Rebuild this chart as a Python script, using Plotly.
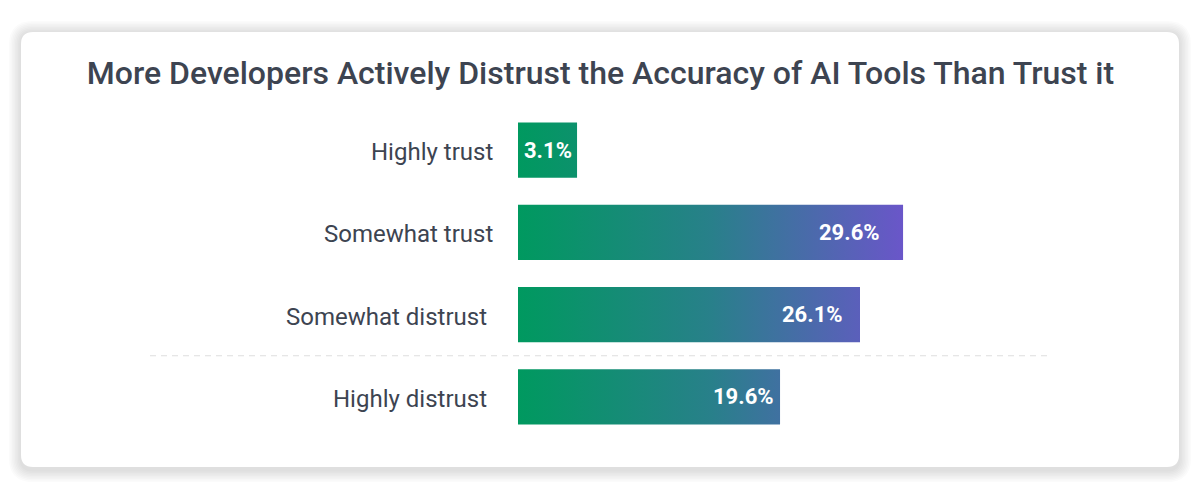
import plotly.graph_objects as go

categories = ["Highly trust", "Somewhat trust", "Somewhat distrust", "Highly distrust"]
values = [3.1, 29.6, 26.1, 19.6]
value_labels = ["3.1%", "29.6%", "26.1%", "19.6%"]
title = "More Developers Actively Distrust the Accuracy of AI Tools Than Trust it"

OFF = 8            # page body margin
W, H = 1201 - 2 * OFF, 501 - 2 * OFF
# plot area in figure pixels
L, R, T, B = 518 - OFF, 1047 - OFF, 109 - OFF, 438 - OFF
x0 = -1.7          # bars start a bit left of zero (minimum bar width)
xmax = 41.3
half = 0.335       # half bar thickness in category units
label_gap = [23, 23, 29, 29]   # distrust group labels sit a little further left

text_color = "#3d4451"
grad = [[0, "#00995f"], [0.5, "#28808a"], [1, "#6a56c9"]]


def px(x):
    return (x - OFF - L) / (R - L)


def py(y):
    return (B - (y - OFF)) / (B - T)


def rounded(xa, ya, xb, yb, r):
    # rounded rectangle path in paper units, input in page pixels
    rx = r / (R - L)
    ry = r / (B - T)
    a, b, c, d = px(xa), py(ya), px(xb), py(yb)
    return (f"M {a + rx},{b} L {c - rx},{b} Q {c},{b} {c},{b - ry} "
            f"L {c},{d + ry} Q {c},{d} {c - rx},{d} L {a + rx},{d} "
            f"Q {a},{d} {a},{d + ry} L {a},{b - ry} Q {a},{b} {a + rx},{b} Z")


fig = go.Figure()

for i, v in enumerate(values):
    fig.add_trace(go.Scatter(
        x=[x0, v, v, x0, x0],
        y=[i - half, i - half, i + half, i + half, i - half],
        mode="lines",
        line=dict(width=0),
        fill="toself",
        fillgradient=dict(type="horizontal", colorscale=grad,
                          start=x0, stop=max(values)),
        hoverinfo="skip",
        showlegend=False,
    ))

# category labels
for i, cat in enumerate(categories):
    fig.add_annotation(x=0, xref="paper", y=i, text=cat, showarrow=False,
                       xanchor="right", xshift=-label_gap[i], yshift=-2,
                       font=dict(size=24, color=text_color, family="Roboto"))

# value labels
for i, (v, lab) in enumerate(zip(values, value_labels)):
    frac = 0.5 if v < 5 else 0.862
    fig.add_annotation(x=x0 + frac * (v - x0), y=i, text=f"<b>{lab}</b>", showarrow=False,
                       xanchor="center",
                       font=dict(size=22, color="white", family="Roboto"))

shapes = []
# card shadow
for k in range(8):
    e = 1.5 * (k + 1)
    shapes.append(dict(type="path", xref="paper", yref="paper", layer="below",
                       path=rounded(21 - e, 32 - e + 1, 1179 + e, 467 + e + 3, 12 + e),
                       fillcolor="#1f2937", opacity=0.02, line=dict(width=0)))
# card
shapes.append(dict(type="path", xref="paper", yref="paper", layer="below",
                   path=rounded(21, 32, 1179, 467, 12),
                   fillcolor="white", line=dict(width=0)))
# separator between trust and distrust groups
shapes.append(dict(type="line", xref="paper", yref="y", x0=px(150), x1=1, y0=2.5, y1=2.5,
                   line=dict(color="#dedede", width=1, dash="6px,5px")))

fig.update_layout(
    width=W, height=H,
    margin=dict(l=L, r=W - R, t=T, b=H - B, pad=0),
    paper_bgcolor="white",
    plot_bgcolor="rgba(0,0,0,0)",
    shapes=shapes,
    title=dict(text=title, x=0.5, xref="container", xanchor="center",
               y=1 - (73 - OFF) / H, yref="container", yanchor="middle",
               font=dict(family="Roboto", size=32, color=text_color, weight=500)),
    xaxis=dict(range=[x0, xmax], visible=False, fixedrange=True),
    yaxis=dict(range=[len(categories) - 0.5, -0.5], visible=False, fixedrange=True),
    font=dict(family="Roboto"),
)

fig.write_html("out.html")
